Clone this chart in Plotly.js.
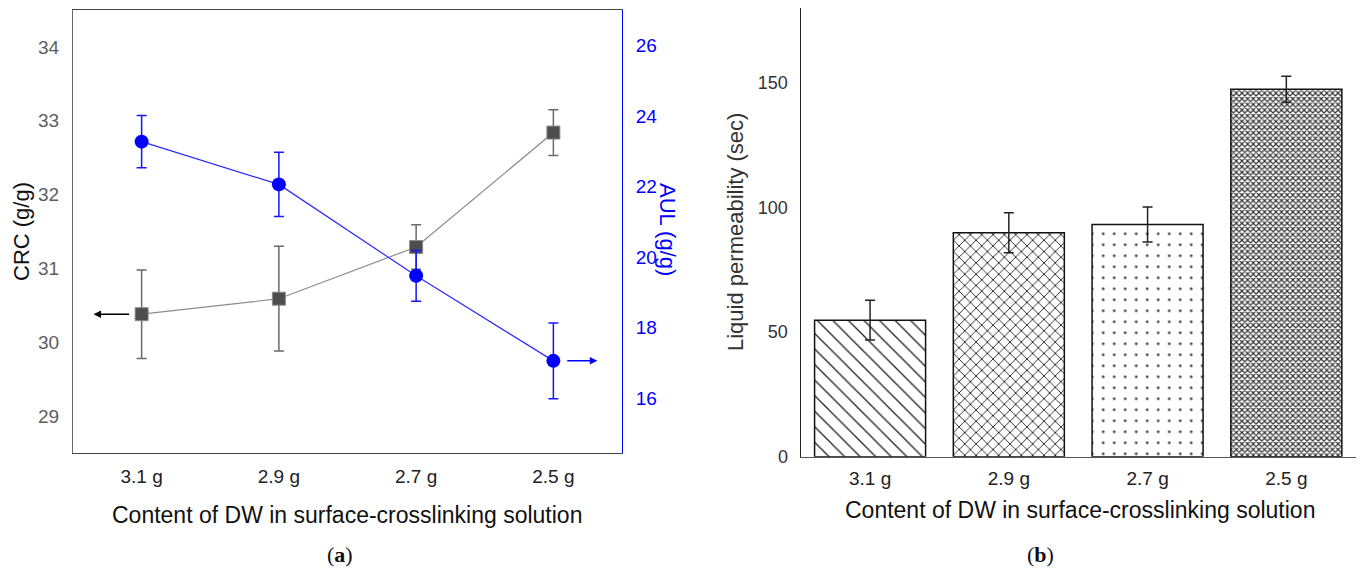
<!DOCTYPE html>
<html>
<head>
<meta charset="utf-8">
<script src="https://cdn.plot.ly/plotly-3.0.1.min.js"></script>
<style>
  html, body { margin: 0; padding: 0; background: #fff; }
  #chart { width: 1360px; height: 571px; }
</style>
</head>
<body>
<div id="chart"></div>
<script>
// ---- data ----
const categories = ['3.1 g', '2.9 g', '2.7 g', '2.5 g'];
const crc = [30.38, 30.59, 31.29, 32.84];
const crcErr = [0.60, 0.71, 0.30, 0.31];
const aul = [23.27, 22.06, 19.47, 17.06];
const aulErr = [0.74, 0.91, 0.72, 1.07];
const permeability = [54.8, 89.9, 93.2, 147.5];
const permeabilityErr = [8.0, 8.0, 7.0, 5.2];
const crcTicks = [29, 30, 31, 32, 33, 34];
const aulTicks = [16, 18, 20, 22, 24, 26];
const permTicks = [0, 50, 100, 150];

const W = 1360, H = 571;
const px = v => v / W;
const py = v => 1 - v / H;
const sans = 'Liberation Sans, Arial, sans-serif';

const traces = [
  {
    x: categories, y: crc, xaxis: 'x', yaxis: 'y', type: 'scatter', mode: 'lines+markers',
    line: { color: '#8c8c8c', width: 1.2 },
    marker: { symbol: 'square', size: 13, color: '#4d4d4d', line: { color: '#8a8a8a', width: 1 } },
    error_y: { type: 'data', array: crcErr, visible: true, color: '#6a6a6a', thickness: 1.5, width: 5 },
    showlegend: false, hoverinfo: 'skip'
  },
  {
    x: categories, y: aul, xaxis: 'x', yaxis: 'y2', type: 'scatter', mode: 'lines+markers',
    line: { color: '#2a2aff', width: 1.2 },
    marker: { symbol: 'circle', size: 14, color: '#0000ff' },
    error_y: { type: 'data', array: aulErr, visible: true, color: '#1414ff', thickness: 1.5, width: 5 },
    showlegend: false, hoverinfo: 'skip'
  },
  {
    x: categories, y: permeability, xaxis: 'x2', yaxis: 'y3', type: 'bar',
    marker: {
      color: '#ffffff',
      line: { color: '#111111', width: 1.5 },
      pattern: {
        shape: ['\\', 'x', '.', 'x'],
        size: [11, 8, 11, 4],
        solidity: [0.12, 0.2, 0.04, 0.5],
        fgcolor: ['#222222', '#111111', '#222222', '#333333'],
        bgcolor: ['#ffffff', '#ffffff', '#ffffff', '#ffffff'],
        fillmode: 'replace'
      }
    },
    error_y: { type: 'data', array: permeabilityErr, visible: true, color: '#222222', thickness: 1.5, width: 5 },
    showlegend: false, hoverinfo: 'skip'
  }
];

const layout = {
  width: W, height: H,
  margin: { l: 0, r: 0, t: 0, b: 0 },
  paper_bgcolor: '#ffffff', plot_bgcolor: 'rgba(0,0,0,0)',
  font: { family: sans, color: '#222' },
  bargap: 0.2,
  xaxis: {
    domain: [px(73), px(622)], anchor: 'y', type: 'category', range: [-0.5, 3.5],
    showline: true, mirror: true, linecolor: '#444', linewidth: 1,
    ticks: '', showgrid: false, zeroline: false, fixedrange: true,
    tickfont: { size: 19, color: '#222', family: sans }, ticklabelstandoff: 6
  },
  yaxis: {
    domain: [py(453), py(10)], anchor: 'x', range: [28.5, 34.5],
    tickvals: crcTicks, showline: true, linecolor: '#6a6a6a', linewidth: 1,
    ticks: '', showgrid: false, zeroline: false,
    tickfont: { size: 19, color: '#5e5e5e', family: sans }, ticklabelstandoff: 9
  },
  yaxis2: {
    overlaying: 'y', side: 'right', anchor: 'x', range: [14.45, 27],
    tickvals: aulTicks, showline: true, linecolor: '#0000ff', linewidth: 1,
    ticks: '', showgrid: false, zeroline: false,
    tickfont: { size: 19, color: '#0000ff', family: sans }, ticklabelstandoff: 9
  },
  xaxis2: {
    domain: [px(800.7), px(1355.7)], anchor: 'y3', type: 'category', range: [-0.5, 3.5],
    showline: true, linecolor: '#555', linewidth: 1.5,
    ticks: '', showgrid: false, zeroline: false,
    tickfont: { size: 19, color: '#222', family: sans }, ticklabelstandoff: 4
  },
  yaxis3: {
    domain: [py(456.7), py(8.3)], anchor: 'x2', range: [0, 180],
    tickvals: permTicks, showline: true, linecolor: '#222', linewidth: 1.2,
    ticks: '', showgrid: false, zeroline: false,
    tickfont: { size: 18, color: '#333', family: sans }, ticklabelstandoff: 8
  },
  annotations: [
    // direction arrows linking each series to its axis
    { xref: 'x', yref: 'y', axref: 'x', ayref: 'y', x: -0.35, y: crc[0], ax: -0.08, ay: crc[0],
      text: '', showarrow: true, arrowhead: 2, arrowsize: 1, arrowwidth: 1.5, arrowcolor: '#000' },
    { xref: 'x', yref: 'y2', axref: 'x', ayref: 'y2', x: 3.32, y: aul[3], ax: 3.09, ay: aul[3],
      text: '', showarrow: true, arrowhead: 2, arrowsize: 1, arrowwidth: 1.5, arrowcolor: '#0000ff' },
    // axis titles
    { xref: 'paper', yref: 'paper', x: px(21), y: py(232), text: 'CRC (g/g)', textangle: -90,
      showarrow: false, xanchor: 'center', yanchor: 'middle', font: { size: 22, color: '#111', family: sans } },
    { xref: 'paper', yref: 'paper', x: px(668), y: py(229), text: 'AUL (g/g)', textangle: 90,
      showarrow: false, xanchor: 'center', yanchor: 'middle', font: { size: 22, color: '#0000ff', family: sans } },
    { xref: 'paper', yref: 'paper', x: px(735), y: py(232), text: 'Liquid permeability (sec)', textangle: -90,
      showarrow: false, xanchor: 'center', yanchor: 'middle', font: { size: 22, color: '#333', family: sans } },
    { xref: 'paper', yref: 'paper', x: px(347), y: py(515), text: 'Content of DW in surface-crosslinking solution',
      showarrow: false, xanchor: 'center', yanchor: 'middle', font: { size: 23, color: '#111', family: sans } },
    { xref: 'paper', yref: 'paper', x: px(1080), y: py(510), text: 'Content of DW in surface-crosslinking solution',
      showarrow: false, xanchor: 'center', yanchor: 'middle', font: { size: 23, color: '#111', family: sans } },
    // panel captions
    { xref: 'paper', yref: 'paper', x: px(340), y: py(554), text: '(<b>a</b>)',
      showarrow: false, xanchor: 'center', yanchor: 'middle', font: { size: 22, color: '#111', family: 'Liberation Serif, serif' } },
    { xref: 'paper', yref: 'paper', x: px(1040), y: py(554), text: '(<b>b</b>)',
      showarrow: false, xanchor: 'center', yanchor: 'middle', font: { size: 22, color: '#111', family: 'Liberation Serif, serif' } }
  ]
};

Plotly.newPlot('chart', traces, layout, { displayModeBar: false, staticPlot: true });
</script>
</body>
</html>
